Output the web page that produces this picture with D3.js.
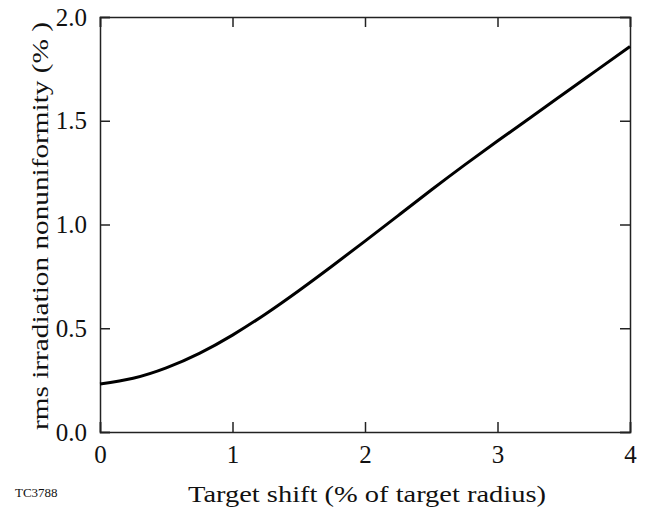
<!DOCTYPE html>
<html>
<head>
<meta charset="utf-8">
<script src="https://cdn.jsdelivr.net/npm/d3@7"></script>
<style>
    body { margin: 0; background: #fff; }
    svg text { font-family: "Liberation Serif", "Times New Roman", "DejaVu Serif", serif; }
</style>
</head>
<body>
<svg id="chart"></svg>
<script>
// Values
const shift = [0, 0.25, 0.5, 0.75, 1.0, 1.25, 1.5, 1.75, 2.0, 2.25, 2.5, 2.75, 3.0, 3.25, 3.5, 3.75, 4.0];
const nonuniformity = [0.231, 0.259, 0.309, 0.379, 0.467, 0.569, 0.681, 0.799, 0.92, 1.043, 1.166, 1.286, 1.402, 1.516, 1.63, 1.744, 1.858];
const xTicks = [0, 1, 2, 3, 4];
const yTicks = [0, 0.5, 1.0, 1.5, 2.0];

const width = 651, height = 510;
const margin = { top: 17, right: 21, bottom: 78, left: 100 };
const serif = '"Liberation Serif", "Times New Roman", "DejaVu Serif", serif';

const svg = d3.select("#chart")
    .attr("width", width)
    .attr("height", height);

const x = d3.scaleLinear().domain([0, 4]).range([margin.left, width - margin.right]);
const y = d3.scaleLinear().domain([0, 2]).range([height - margin.bottom, margin.top]);

const tickLen = 10;

// Frame with inward ticks on every side
const bottomAxis = svg.append("g")
    .attr("transform", `translate(0,${y(0)})`)
    .call(d3.axisBottom(x).tickValues(xTicks).tickSize(-tickLen).tickPadding(tickLen + 3).tickFormat(d3.format("d")));

const topAxis = svg.append("g")
    .attr("transform", `translate(0,${y(2)})`)
    .call(d3.axisTop(x).tickValues(xTicks).tickSize(-tickLen).tickFormat(""));

const leftAxis = svg.append("g")
    .attr("transform", `translate(${x(0)},0)`)
    .call(d3.axisLeft(y).tickValues(yTicks).tickSize(-tickLen).tickPadding(tickLen + 3).tickFormat(d3.format(".1f")));

const rightAxis = svg.append("g")
    .attr("transform", `translate(${x(4)},0)`)
    .call(d3.axisRight(y).tickValues(yTicks).tickSize(-tickLen).tickFormat(""));

[bottomAxis, topAxis, leftAxis, rightAxis].forEach(a => {
    a.attr("font-family", serif);
    a.select(".domain").attr("stroke", "#222").attr("stroke-width", 1.5);
    a.selectAll(".tick line").attr("stroke", "#222").attr("stroke-width", 1.5);
    a.selectAll(".tick text")
        .attr("fill", "#111")
        .style("font-family", serif)
        .style("font-size", "25px");
});

// Curve
const line = d3.line()
    .x((d, i) => x(shift[i]))
    .y(d => y(d))
    .curve(d3.curveNatural);

svg.append("path")
    .datum(nonuniformity)
    .attr("fill", "none")
    .attr("stroke", "#000")
    .attr("stroke-width", 3)
    .attr("d", line);

// Axis titles (stretched a little, the original typeface runs wide)
svg.append("text")
    .attr("x", 367)
    .attr("y", 502)
    .attr("text-anchor", "middle")
    .attr("fill", "#111")
    .attr("textLength", 358)
    .attr("lengthAdjust", "spacingAndGlyphs")
    .style("font-family", serif)
    .style("font-size", "24px")
    .text("Target shift (% of target radius)");

svg.append("text")
    .attr("transform", `translate(48,226) rotate(-90)`)
    .attr("text-anchor", "middle")
    .attr("fill", "#111")
    .attr("textLength", 408)
    .attr("lengthAdjust", "spacingAndGlyphs")
    .style("font-family", serif)
    .style("font-size", "24px")
    .text("rms irradiation nonuniformity (% )");

svg.append("text")
    .attr("x", 15)
    .attr("y", 497)
    .attr("fill", "#111")
    .style("font-family", serif)
    .style("font-size", "13px")
    .text("TC3788");
</script>
</body>
</html>
